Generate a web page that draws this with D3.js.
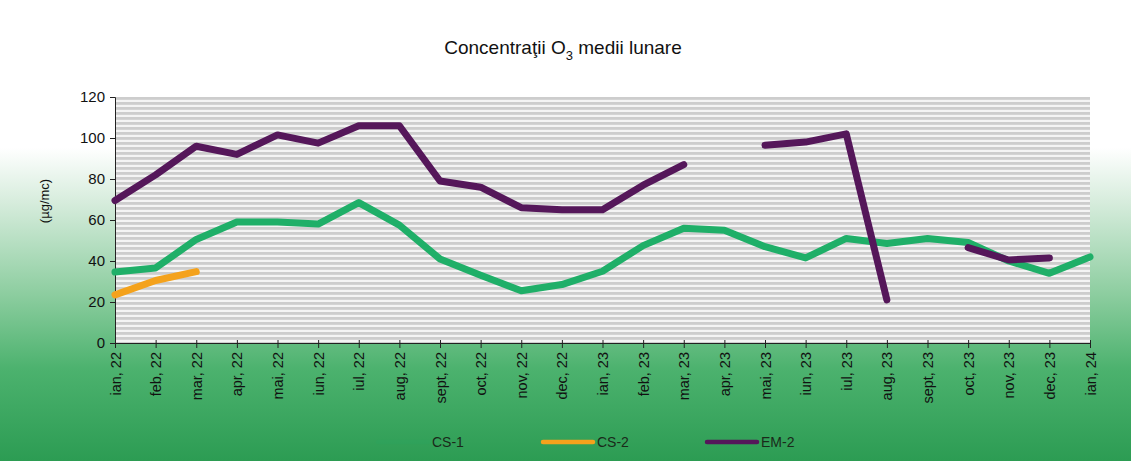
<!DOCTYPE html>
<html>
<head>
<meta charset="utf-8">
<script src="https://cdn.jsdelivr.net/npm/d3@7"></script>
<style>
  body { margin: 0; padding: 0; overflow: hidden; }
  svg { display: block; font-family: "Liberation Sans", Arial, sans-serif; }
</style>
</head>
<body>
<div id="chart"></div>
<script>
// months (ian 22 .. ian 24)
var months = ["ian, 22","feb, 22","mar, 22","apr, 22","mai, 22","iun, 22","iul, 22","aug, 22",
  "sept, 22","oct, 22","nov, 22","dec, 22","ian, 23","feb, 23","mar, 23","apr, 23","mai, 23",
  "iun, 23","iul, 23","aug, 23","sept, 23","oct, 23","nov, 23","dec, 23","ian, 24"];

var cs1 = [34.6, 36.6, 50.5, 59, 59, 58, 68.5, 57.5, 41, 33, 25.5, 28.5, 35, 47.5, 56, 55,
  47, 41.5, 51, 48.5, 51, 49, 40, 34, 42];
var cs2 = [23.5, 30.5, 34.8, null, null, null, null, null, null, null, null, null, null, null, null,
  null, null, null, null, null, null, null, null, null, null];
var em2 = [69.5, 82, 96, 92, 101.5, 97.5, 106, 106, 79, 76, 66, 65, 65, 77, 87, null,
  96.5, 98, 102, 21, null, 46.5, 40.5, 41.5, null];

var yTicks = [0, 20, 40, 60, 80, 100, 120];

var series = [
  {name: "CS-1", values: cs1, color: "#1faf68"},
  {name: "CS-2", values: cs2, color: "#f4a21c"},
  {name: "EM-2", values: em2, color: "#55175a"}
];

var width = 1131, height = 461;
var margin = {top: 97, left: 115, right: 41, bottom: 118};

var svg = d3.select("#chart").append("svg")
  .attr("width", width)
  .attr("height", height);

var defs = svg.append("defs");

// page background: white fading into green
var bg = defs.append("linearGradient").attr("id", "bg")
  .attr("x1", 0).attr("y1", 0).attr("x2", 0).attr("y2", 1);
bg.append("stop").attr("offset", "0%").attr("stop-color", "#ffffff");
bg.append("stop").attr("offset", "32%").attr("stop-color", "#ffffff");
bg.append("stop").attr("offset", "44%").attr("stop-color", "#d6ecdc");
bg.append("stop").attr("offset", "64%").attr("stop-color", "#8ccd9f");
bg.append("stop").attr("offset", "80%").attr("stop-color", "#4cb26e");
bg.append("stop").attr("offset", "100%").attr("stop-color", "#2c9c53");

var stripes = defs.append("pattern").attr("id", "stripes")
  .attr("patternUnits", "userSpaceOnUse")
  .attr("x", 0).attr("y", margin.top)
  .attr("width", 10).attr("height", 5);
stripes.append("rect").attr("width", 10).attr("height", 5).attr("fill", "#f4f4f4");
stripes.append("rect").attr("width", 10).attr("height", 2.8).attr("fill", "#cdcdcd");

svg.append("rect")
  .attr("width", width).attr("height", height)
  .attr("fill", "url(#bg)");

var x = d3.scalePoint()
  .domain(months)
  .range([margin.left, width - margin.right]);

var y = d3.scaleLinear()
  .domain([0, 120])
  .range([height - margin.bottom, margin.top]);

// plot area
svg.append("rect")
  .attr("x", margin.left).attr("y", y(120))
  .attr("width", x.range()[1] - margin.left)
  .attr("height", y(0) - y(120))
  .attr("fill", "url(#stripes)");

// title
var title = svg.append("text")
  .attr("x", 563).attr("y", 54)
  .attr("text-anchor", "middle")
  .attr("font-size", 19)
  .attr("fill", "#111");
title.append("tspan").text("Concentraţii O");
title.append("tspan").attr("font-size", 13).attr("dy", 6).text("3");
title.append("tspan").attr("dy", -6).text(" medii lunare");

// y axis
var yAxis = svg.append("g")
  .attr("transform", "translate(" + margin.left + ",0)")
  .call(d3.axisLeft(y).tickValues(yTicks).tickSize(5).tickPadding(5));
yAxis.selectAll("text").attr("font-size", 15).attr("fill", "#111")
  .attr("font-family", "Liberation Sans, Arial, sans-serif");
yAxis.selectAll("line, path").attr("stroke", "#222");

svg.append("text")
  .attr("transform", "translate(49,201) rotate(-90)")
  .attr("text-anchor", "middle")
  .attr("font-size", 13)
  .attr("fill", "#111")
  .text("(µg/mc)");

// x axis
var xAxis = svg.append("g")
  .attr("transform", "translate(0," + y(0) + ")")
  .call(d3.axisBottom(x).tickSizeInner(5).tickSizeOuter(0).tickPadding(6));
xAxis.selectAll("line").attr("y1", -3).attr("stroke", "#222");
xAxis.select("path").attr("stroke", "#222");
xAxis.selectAll("text")
  .attr("font-size", 14.5).attr("fill", "#111")
  .attr("font-family", "Liberation Sans, Arial, sans-serif")
  .attr("transform", "rotate(-90)")
  .attr("text-anchor", "end")
  .attr("dy", "0.35em")
  .attr("x", -9).attr("y", 0);

// lines
var line = d3.line()
  .defined(function(d) { return d != null; })
  .x(function(d, i) { return x(months[i]); })
  .y(function(d) { return y(d); });

svg.selectAll(".series")
  .data(series)
  .enter().append("path")
  .attr("class", "series")
  .attr("fill", "none")
  .attr("stroke", function(d) { return d.color; })
  .attr("stroke-width", 7)
  .attr("stroke-linejoin", "round")
  .attr("stroke-linecap", "round")
  .attr("d", function(d) { return line(d.values); });

// legend (the CS-1 key line disappears into the green page in the original)
var legendX = [378, 543, 707];
var legend = svg.selectAll(".legend")
  .data(series)
  .enter().append("g")
  .attr("class", "legend")
  .attr("transform", function(d, i) { return "translate(" + legendX[i] + ",442)"; });
legend.append("line")
  .attr("x1", 0).attr("x2", 50)
  .attr("stroke", function(d) { return d.color; })
  .attr("stroke-opacity", function(d, i) { return i === 0 ? 0.12 : 1; })
  .attr("stroke-width", 4.5)
  .attr("stroke-linecap", "round");
legend.append("text")
  .attr("x", 54).attr("dy", "0.35em")
  .attr("font-size", 14)
  .attr("fill", "#1a2a1a")
  .text(function(d) { return d.name; });
</script>
</body>
</html>
